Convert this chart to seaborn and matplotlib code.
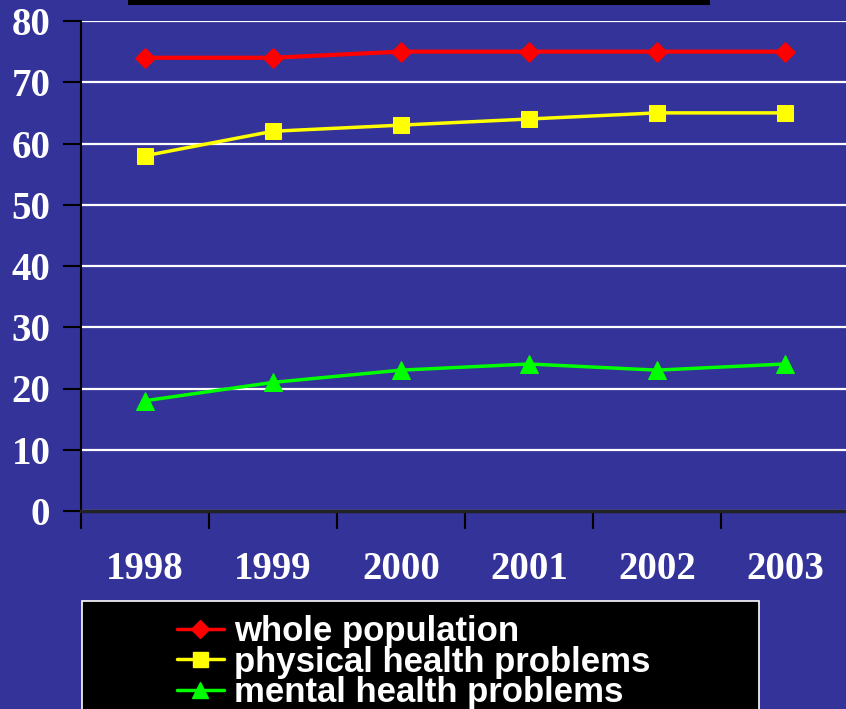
import matplotlib
matplotlib.use("Agg")
import matplotlib.pyplot as plt
from matplotlib.patches import Rectangle
from matplotlib.lines import Line2D
import seaborn as sns
import pandas as pd

years = ["1998", "1999", "2000", "2001", "2002", "2003"]
whole_population = [74, 74, 75, 75, 75, 75]
physical_health = [58, 62, 63, 64, 65, 65]
mental_health = [18, 21, 23, 24, 23, 24]
series_names = ["whole population", "physical health problems", "mental health problems"]
y_ticks = [0, 10, 20, 30, 40, 50, 60, 70, 80]

BG = "#333399"
sns.set_theme(style="white")

W, H = 846, 709
fig = plt.figure(figsize=(W / 100, H / 100), dpi=100, facecolor=BG)
ax = fig.add_axes([81 / W, 1 - 511 / H, (849 - 81) / W, (511 - 21) / H])
ax.set_facecolor(BG)

df = pd.DataFrame({"year": years,
                   series_names[0]: whole_population,
                   series_names[1]: physical_health,
                   series_names[2]: mental_health})
colors = ["#ff0000", "#ffff00", "#00ff00"]
markers = ["D", "s", "^"]
msizes = [10, 12, 13]
lws = [3, 2.5, 2.5]
for name, c, m, ms, lw in zip(series_names, colors, markers, msizes, lws):
    sns.lineplot(data=df, x="year", y=name, ax=ax, color=c, marker=m,
                 markersize=ms, linewidth=lw, markeredgecolor=c, zorder=3,
                 sort=False)

ax.set_ylim(0, 80)
ax.set_xlim(-0.5, 5.5)
ax.set_yticks(y_ticks)
ax.yaxis.grid(True, color="white", linewidth=1.6)
ax.xaxis.grid(False)
ax.set_axisbelow(True)

ax.set_xticks(range(len(years)))
ax.set_xticklabels(years)
ax.set_xticks([i - 0.5 for i in range(len(years) + 1)], minor=True)
ax.tick_params(axis="x", which="major", length=0, pad=29)
ax.tick_params(axis="x", which="minor", length=13, width=1.5, color="black",
               direction="out", bottom=True)
ax.tick_params(axis="y", length=13, width=1.5, color="black", direction="out",
               left=True, pad=9)
for lab in ax.get_xticklabels() + ax.get_yticklabels():
    lab.set_fontfamily("Liberation Serif")
    lab.set_fontweight("bold")
    lab.set_fontsize(28)
    lab.set_color("white")

ax.set_xlabel("")
ax.set_ylabel("")
for s in ["top", "right"]:
    ax.spines[s].set_visible(False)
ax.spines["left"].set_color("black")
ax.spines["left"].set_linewidth(1.5)
ax.spines["bottom"].set_color("#222222")
ax.spines["bottom"].set_linewidth(2.5)

# top black box (cut-off title box)
fig.patches.append(Rectangle((128 / W, 1 - 5 / H), (710 - 128) / W, 6 / H,
                             transform=fig.transFigure, facecolor="black",
                             edgecolor="none", zorder=5))
# legend box
fig.patches.append(Rectangle((82 / W, -0.01), (759 - 82) / W, 1 - 601 / H + 0.01,
                             transform=fig.transFigure, facecolor="black",
                             edgecolor="white", linewidth=1.2, zorder=5))

handles = [Line2D([], [], color=c, marker=m, markersize=ms * 0.9, linewidth=2.5,
                  markeredgecolor=c)
           for c, m, ms in zip(colors, markers, msizes)]
leg = fig.legend(handles, series_names, loc="upper left",
                 bbox_to_anchor=(177 / W, 1 - 615 / H), frameon=False,
                 prop={"family": "Liberation Sans", "weight": "bold", "size": 25},
                 labelcolor="white", handlelength=1.35, handletextpad=0.3,
                 labelspacing=-0.07, borderpad=0, borderaxespad=0)
leg.set_zorder(6)

fig.savefig("out.png", dpi=100, facecolor=BG)
